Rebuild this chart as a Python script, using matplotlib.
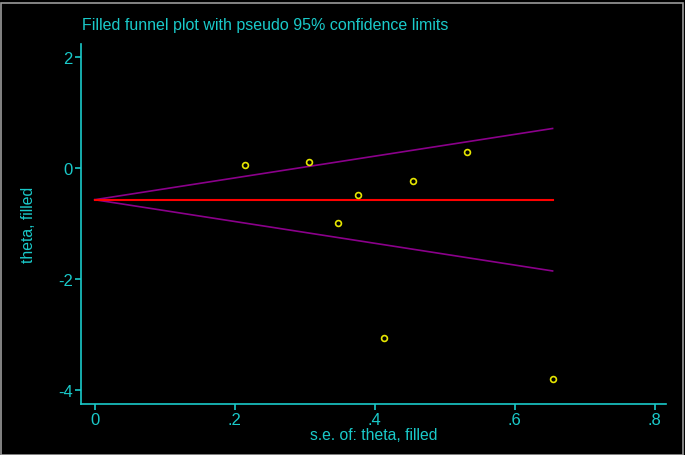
import matplotlib
matplotlib.use("Agg")
import matplotlib.pyplot as plt
from matplotlib.patches import Rectangle

# Data
se = [0.2147, 0.3066, 0.532, 0.455, 0.3766, 0.348, 0.4137, 0.654]
theta = [0.054, 0.103, 0.288, -0.234, -0.491, -0.99, -3.065, -3.797]
pooled = -0.576
z95 = 1.96
se_range = [0.0, 0.654]
xticks = [0, 0.2, 0.4, 0.6, 0.8]
xticklabels = ["0", ".2", ".4", ".6", ".8"]
yticks = [-4, -2, 0, 2]
yticklabels = ["-4", "-2", "0", "2"]

CYAN = "#1ACACA"
plt.rcParams['font.family'] = ['Liberation Sans', 'DejaVu Sans']

fig = plt.figure(figsize=(6.85, 4.56), dpi=100, facecolor="black")
W, H = 685, 456
ax = fig.add_axes([81 / W, 1 - 405 / H, (666 - 81) / W, (405 - 45) / H])
ax.set_facecolor("black")

upper = [pooled + z95 * s for s in se_range]
lower = [pooled - z95 * s for s in se_range]
ax.plot(se_range, upper, color="#8B008B", lw=1.2, zorder=2)
ax.plot(se_range, lower, color="#8B008B", lw=1.2, zorder=2)
ax.plot(se_range, [pooled, pooled], color="#FF0000", lw=1.5, zorder=3)
ax.plot(se, theta, linestyle="none", marker="o", markersize=4.2,
        markerfacecolor="none", markeredgecolor="#E6E600", markeredgewidth=1.2, zorder=4)

ax.set_xlim(-0.0196, 0.816)
ax.set_ylim(-4.252, 2.226)
ax.set_xticks(xticks)
ax.set_xticklabels(xticklabels)
ax.set_yticks(yticks)
ax.set_yticklabels(yticklabels)

for s in ["top", "right"]:
    ax.spines[s].set_visible(False)
for s in ["left", "bottom"]:
    ax.spines[s].set_color(CYAN)
    ax.spines[s].set_linewidth(1.2)
ax.tick_params(colors=CYAN, labelcolor=CYAN, labelsize=12, length=4, width=1.2, pad=2)

ax.set_xlabel("s.e. of: theta, filled", color=CYAN, fontsize=11.3, labelpad=0)
ax.set_ylabel("theta, filled", color=CYAN, fontsize=11.3, labelpad=16)

fig.text(82 / W, 1 - 25.5 / H, "Filled funnel plot with pseudo 95% confidence limits",
         color=CYAN, fontsize=11.5, ha="left", va="center")

fig.patches.append(Rectangle((0.5 / W, 0.5 / H), (W - 3) / W, (H - 4) / H,
                             transform=fig.transFigure, fill=False,
                             edgecolor="#9A9A9A", lw=1.2))

fig.savefig("out.png", dpi=100, facecolor="black")
